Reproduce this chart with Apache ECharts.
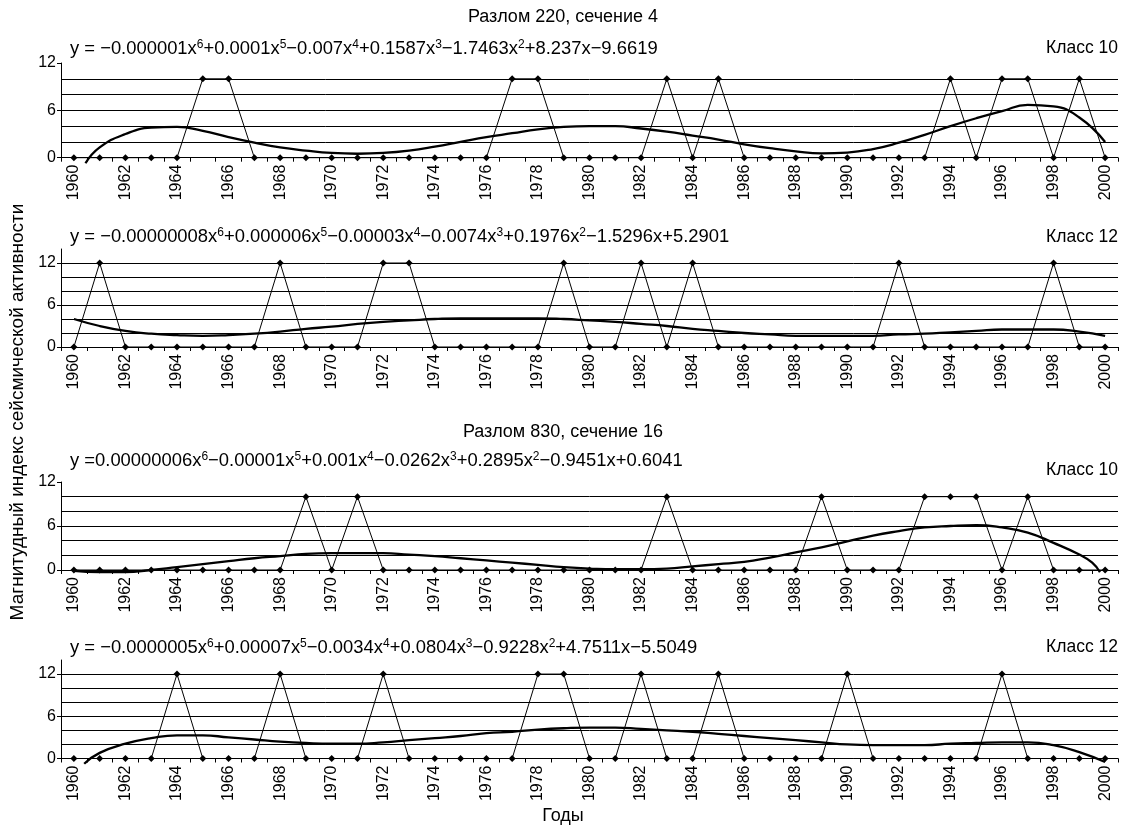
<!DOCTYPE html>
<html><head><meta charset="utf-8">
<script src="https://cdn.jsdelivr.net/npm/echarts@6/dist/echarts.min.js"></script>
<style>html,body{margin:0;padding:0;background:#fff}#c{width:1127px;height:827px}</style>
</head><body><div id="c"></div>
<script>
const years = ['1960','1961','1962','1963','1964','1965','1966','1967','1968','1969','1970','1971','1972','1973','1974','1975','1976','1977','1978','1979','1980','1981','1982','1983','1984','1985','1986','1987','1988','1989','1990','1991','1992','1993','1994','1995','1996','1997','1998','1999','2000'];

// Event index series (zig-zag with diamonds)
const events1 = [0,0,0,0,0,10,10, 0,0,0,0,0,0,0,0,0,0, 10,10, 0,0,0,0, 10,0,10, 0,0,0,0,0,0,0,0, 10,0,10,10,0,10,0];
const events2 = [0,12, 0,0,0,0,0,0, 12, 0,0,0, 12,12, 0,0,0,0,0, 12, 0,0, 12, 0, 12, 0,0,0,0,0,0,0, 12, 0,0,0,0,0, 12, 0,0];
const events3 = [0,0,0,0,0,0,0,0,0, 10, 0, 10, 0,0,0,0,0,0,0,0,0,0,0, 10, 0,0,0,0,0, 10, 0,0,0, 10,10,10, 0, 10, 0,0,0];
const events4 = [0,0,0,0,12, 0,0,0,12, 0,0,0,12, 0,0,0,0,0, 12,12, 0,0, 12, 0,0, 12, 0,0,0,0, 12, 0,0,0,0,0, 12, 0,0,0,0];

// Polynomial trend lines (x = year, y = value)
const trendYears1 = [1960.45,1961,1962,1963,1964,1965,1966,1967,1968,1969,1970,1971,1972,1973,1974,1975,1976,1977,1978,1979,1980,1981,1982,1983,1984,1985,1986,1987,1988,1989,1990,1991,1992,1993,1994,1995,1996,1997,1998,1999,2000];
const trendVals1  = [-0.7,1.3,3.0,3.8,3.9,3.4,2.6,1.9,1.3,0.9,0.6,0.5,0.6,0.9,1.4,2.0,2.6,3.1,3.6,3.9,4.0,4.0,3.7,3.3,2.8,2.3,1.7,1.2,0.8,0.55,0.65,1.1,1.9,2.9,4.0,5.0,5.9,6.7,6.5,5.1,2.0];
const trendYears2 = [1960,1961,1962,1963,1964,1965,1966,1967,1968,1969,1970,1971,1972,1973,1974,1975,1976,1977,1978,1979,1980,1981,1982,1983,1984,1985,1986,1987,1988,1989,1990,1991,1992,1993,1994,1995,1996,1997,1998,1999,2000];
const trendVals2  = [4.0,3.0,2.3,1.9,1.7,1.6,1.7,1.9,2.2,2.6,2.9,3.3,3.6,3.8,4.0,4.1,4.1,4.1,4.1,4.0,3.8,3.6,3.3,3.0,2.6,2.3,2.0,1.8,1.6,1.6,1.6,1.6,1.8,1.9,2.1,2.3,2.5,2.5,2.5,2.2,1.6];
const trendYears3 = [1960,1961,1962,1963,1964,1965,1966,1967,1968,1969,1970,1971,1972,1973,1974,1975,1976,1977,1978,1979,1980,1981,1982,1983,1984,1985,1986,1987,1988,1989,1990,1991,1992,1993,1994,1995,1996,1997,1998,1999,1999.5,1999.8];
const trendVals3  = [-0.1,-0.3,-0.3,0.0,0.4,0.8,1.2,1.6,1.9,2.2,2.3,2.3,2.3,2.1,1.9,1.6,1.3,1.0,0.7,0.4,0.2,0.1,0.1,0.2,0.5,0.8,1.1,1.7,2.4,3.1,3.9,4.7,5.3,5.8,6.0,6.1,5.8,5.1,3.7,2.1,1.0,-0.3];
const trendYears4 = [1960.4,1961,1962,1963,1964,1965,1966,1967,1968,1969,1970,1971,1972,1973,1974,1975,1976,1977,1978,1979,1980,1981,1982,1983,1984,1985,1986,1987,1988,1989,1990,1991,1992,1993,1994,1995,1996,1997,1998,1999,2000];
const trendVals4  = [-0.75,0.8,2.1,2.9,3.3,3.3,3.0,2.7,2.4,2.2,2.1,2.1,2.3,2.6,2.9,3.2,3.6,3.8,4.1,4.3,4.4,4.4,4.2,4.0,3.8,3.5,3.2,2.9,2.6,2.3,2.0,1.9,1.9,1.9,2.1,2.2,2.3,2.3,1.9,0.9,-0.5];

const yTickLabels = [0, 6, 12];
const yMax = [12, 14, 12, 14];

const titles = ['Разлом 220, сечение 4', 'Разлом 830, сечение 16'];
const classLabels = ['Класс 10', 'Класс 12', 'Класс 10', 'Класс 12'];
const equations = [
  'y = −0.000001x{s|6}+0.0001x{s|5}−0.007x{s|4}+0.1587x{s|3}−1.7463x{s|2}+8.237x−9.6619',
  'y = −0.00000008x{s|6}+0.000006x{s|5}−0.00003x{s|4}−0.0074x{s|3}+0.1976x{s|2}−1.5296x+5.2901',
  'y =0.00000006x{s|6}−0.00001x{s|5}+0.001x{s|4}−0.0262x{s|3}+0.2895x{s|2}−0.9451x+0.6041',
  'y = −0.0000005x{s|6}+0.00007x{s|5}−0.0034x{s|4}+0.0804x{s|3}−0.9228x{s|2}+4.7511x−5.5049'
];
const yTitle = 'Магнитудный индекс сейсмической активности';
const xTitle = 'Годы';

const FONT = '"Liberation Sans", Arial, sans-serif';
const grids = [
  {left: 61, right: 9, top: 63, height: 94.7},
  {left: 61, right: 9, top: 249, height: 98},
  {left: 61, right: 9, top: 482, height: 88},
  {left: 61, right: 9, top: 660, height: 98.5}
];
const events = [events1, events2, events3, events4];
const trends = [[trendYears1, trendVals1], [trendYears2, trendVals2], [trendYears3, trendVals3], [trendYears4, trendVals4]];

const xAxis = [], yAxis = [], series = [];
grids.forEach((g, i) => {
  xAxis.push({
    type: 'category', gridIndex: i, data: years, boundaryGap: true,
    axisLine: {lineStyle: {color: '#000', width: 1}},
    axisTick: {show: true, interval: 0, length: 4, lineStyle: {color: '#000'}},
    axisLabel: {interval: 1, rotate: 90, fontSize: 16, color: '#000', fontFamily: FONT, margin: 7},
    splitLine: {show: false}
  });
  xAxis.push({type: 'value', gridIndex: i, min: 1959.5, max: 2000.5, show: false});
  yAxis.push({
    type: 'value', gridIndex: i, min: 0, max: yMax[i], interval: 2, position: 'left',
    axisLine: {show: true, lineStyle: {color: '#000', width: 1}},
    axisTick: {show: true, length: 4, lineStyle: {color: '#000'}, customValues: yTickLabels},
    axisLabel: {color: '#000', fontSize: 16, fontFamily: FONT, margin: 5, customValues: yTickLabels,
      formatter: v => (yTickLabels.indexOf(v) >= 0 ? String(v) : '')},
    splitLine: {show: false}
  });
  yAxis.push({
    type: 'value', gridIndex: i, min: 0, max: yMax[i], interval: 2, position: 'right',
    axisLine: {show: false}, axisTick: {show: false}, axisLabel: {show: false},
    splitLine: {show: true, showMinLine: false, showMaxLine: false, lineStyle: {color: '#000', width: 1}}
  });
  series.push({
    type: 'line', xAxisIndex: 2 * i, yAxisIndex: 2 * i, data: events[i],
    symbol: 'diamond', symbolSize: 7, showSymbol: true, clip: false,
    lineStyle: {color: '#000', width: 1}, itemStyle: {color: '#000'}, z: 3, animation: false
  });
  series.push({
    type: 'line', xAxisIndex: 2 * i + 1, yAxisIndex: 2 * i,
    data: trends[i][0].map((yr, k) => [yr, trends[i][1][k]]),
    smooth: true, showSymbol: false, symbol: 'none', clip: false,
    lineStyle: {color: '#000', width: 2.3}, z: 4, animation: false
  });
});

const textStyleBase = {fill: '#000', fontFamily: FONT, fontSize: 18};
const graphic = [
  {type: 'text', x: 563, y: 17, style: Object.assign({}, textStyleBase, {text: titles[0], align: 'center', verticalAlign: 'middle'})},
  {type: 'text', x: 563, y: 432, style: Object.assign({}, textStyleBase, {text: titles[1], align: 'center', verticalAlign: 'middle'})},
  {type: 'text', x: 563, y: 816, style: Object.assign({}, textStyleBase, {text: xTitle, align: 'center', verticalAlign: 'middle'})},
  {type: 'text', x: 18, y: 412, rotation: Math.PI / 2, style: Object.assign({}, textStyleBase, {text: yTitle, fontSize: 19, align: 'center', verticalAlign: 'middle'})}
];
const eqY = [49, 237, 461, 648];
const clY = [48, 237, 470, 647];
for (let i = 0; i < 4; i++) {
  graphic.push({type: 'text', x: 70, y: eqY[i], style: Object.assign({}, textStyleBase, {
    text: equations[i], fontSize: 18.4, align: 'left', verticalAlign: 'middle',
    rich: {s: {fontSize: 12, fontFamily: FONT, fill: '#000', padding: [0, 0, 9, 0]}}
  })});
  graphic.push({type: 'text', x: 1118, y: clY[i], style: Object.assign({}, textStyleBase, {text: classLabels[i], fontSize: 17.5, align: 'right', verticalAlign: 'middle'})});
}

const chart = echarts.init(document.getElementById('c'), null, {renderer: 'canvas'});
chart.setOption({
  backgroundColor: '#fff',
  animation: false,
  grid: grids,
  xAxis: xAxis,
  yAxis: yAxis,
  series: series,
  graphic: graphic
});
</script>
</body></html>
